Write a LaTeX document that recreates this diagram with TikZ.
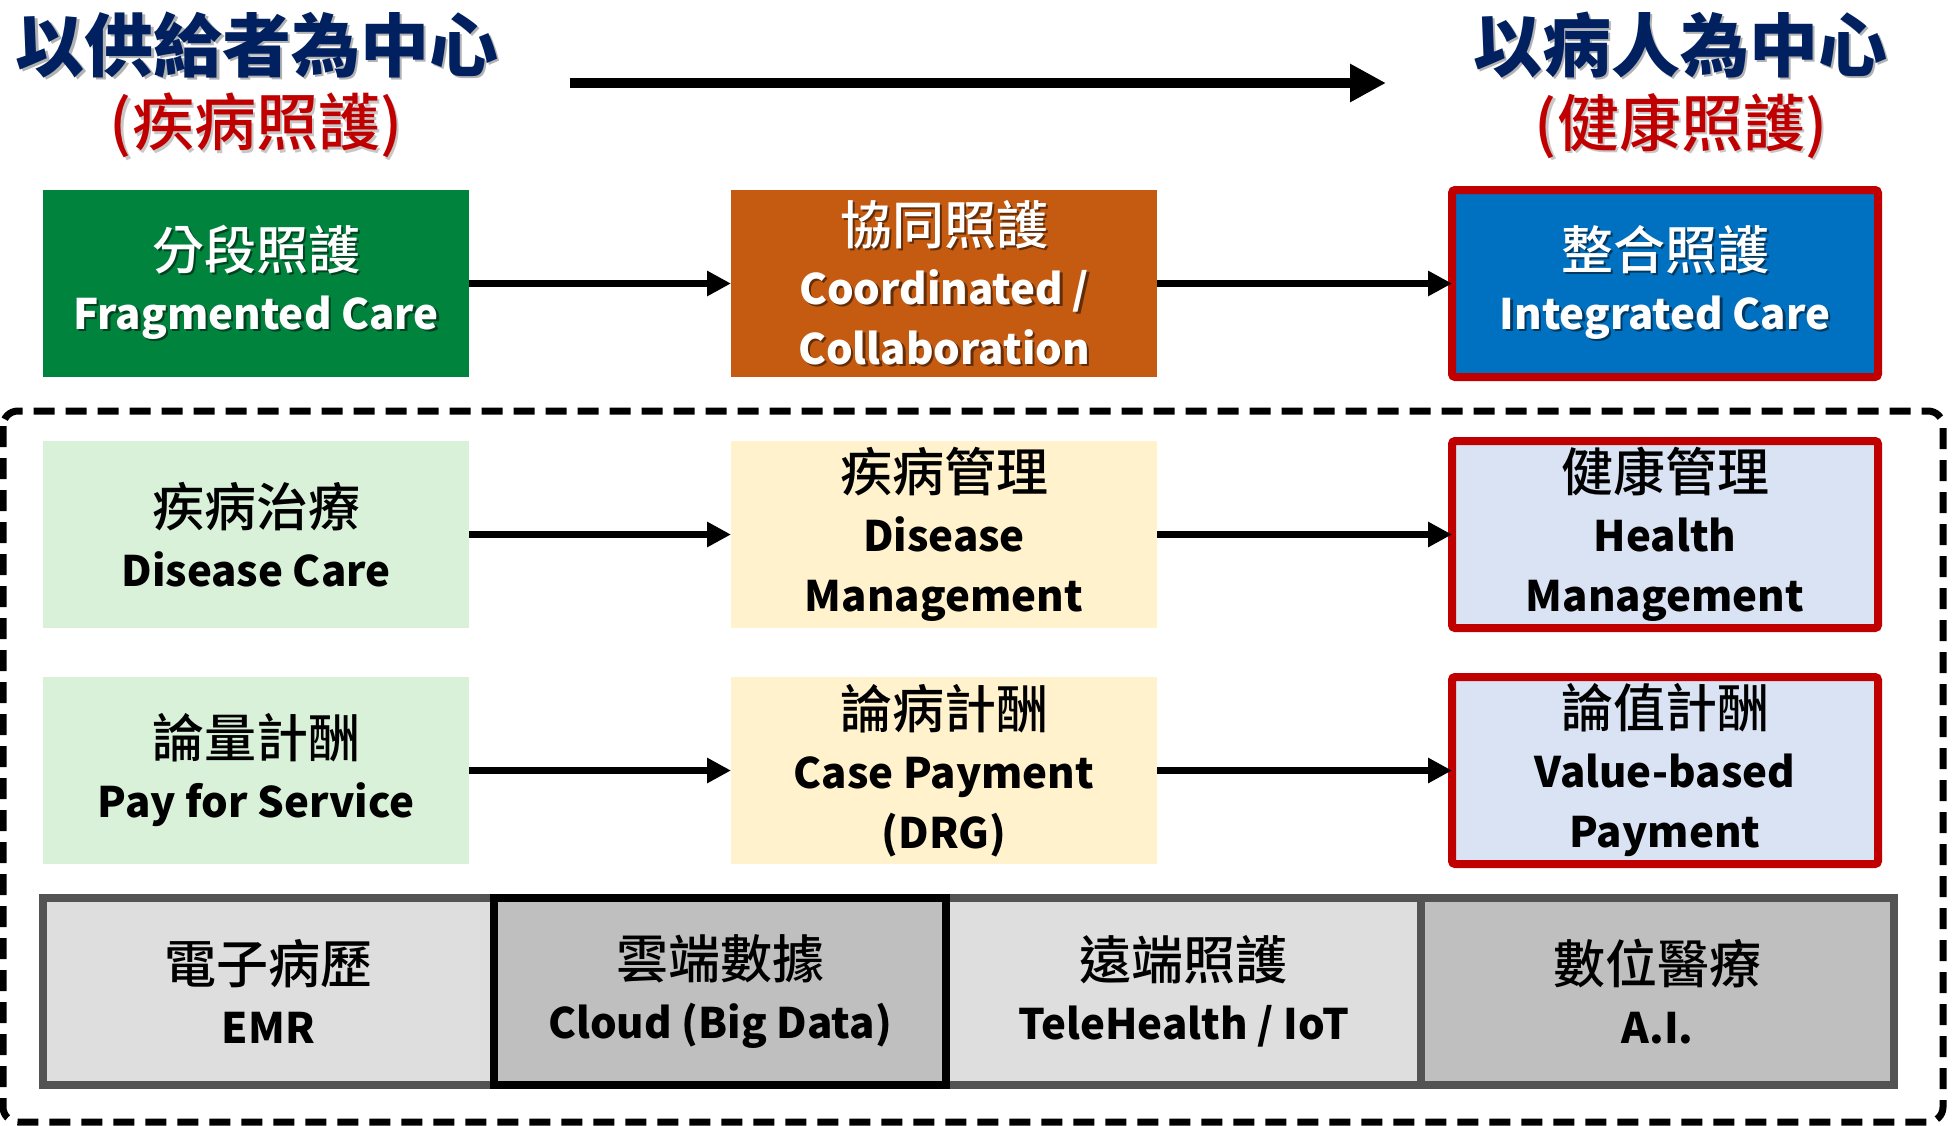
\documentclass[tikz,border=0pt]{standalone}
\usepackage{fontspec}
\setmainfont{Noto Sans CJK TC}
\IfFontExistsTF{Noto Sans CJK TC Medium}
  {\newfontfamily\cjkmedfam{Noto Sans CJK TC Medium}\newcommand{\cjkmed}{\cjkmedfam\mdseries}}
  {\newcommand{\cjkmed}{\mdseries}}
\IfFontExistsTF{Noto Sans CJK TC Black}
  {\newfontfamily\titlefam{Noto Sans CJK TC Black}\newcommand{\titlesel}{\titlefam\mdseries}}
  {\newcommand{\titlesel}{\bfseries}}
\usetikzlibrary{arrows.meta}
\definecolor{cnavy}{HTML}{002060}
\definecolor{cred}{HTML}{C00000}
\definecolor{cgreen}{HTML}{00843D}
\definecolor{corange}{HTML}{C55A11}
\definecolor{cblue}{HTML}{0070C0}
\definecolor{clgreen}{HTML}{D9F1D9}
\definecolor{clyellow}{HTML}{FFF2CC}
\definecolor{clblue}{HTML}{DAE3F3}
\definecolor{cglight}{HTML}{DEDEDE}
\definecolor{cgdark}{HTML}{BFBFBF}
\definecolor{cgborder}{HTML}{535353}
\newcommand{\shd}[2]{\leavevmode\rlap{\hspace{2.5pt}\raisebox{-2.5pt}{\textcolor{#1}{#2}}}#2}
\newcommand{\cjkfs}{\fontsize{52}{60}\selectfont\cjkmed}
\newcommand{\enfs}{\fontsize{42}{60}\selectfont\bfseries}
\begin{document}
\begin{tikzpicture}[x=1pt,y=-1pt,
  box/.style={minimum width=426pt,minimum height=187pt,inner sep=0pt,outer sep=0pt,align=center,font=\enfs},
  redbox/.style={box,draw=cred,line width=8pt,rounded corners=3pt},
  cell/.style={minimum height=187pt,inner sep=0pt,outer sep=0pt,align=center,draw=cgborder,line width=8pt,font=\enfs},
  conn/.style={line width=7pt,-{Triangle[length=24pt,width=24pt]}},
  title/.style={font=\fontsize{69}{80}\selectfont\titlesel,text=cnavy,inner sep=0pt},
  subtitle/.style={font=\fontsize{62}{72}\selectfont\cjkmed,text=cred,inner sep=0pt}]
\useasboundingbox (0,0) rectangle (1952,1125);
% titles
\node[title] (t1) at (257,46) {\shd{black!30}{以供給者為中心}};
\node[subtitle] (s1) at (256,127) {\shd{black!22}{(疾病照護)}};
\node[title] (t2) at (1680,46) {\shd{black!30}{以病人為中心}};
\node[subtitle] (s2) at (1681,127) {\shd{black!22}{(健康照護)}};
\coordinate (ta) at (570,83);
\coordinate (tb) at (1386,83);
\draw[line width=10pt,-{Triangle[length=36pt,width=36pt]}] (ta) -- (tb);
% row 1
\node[box,fill=cgreen,text=white] (a1) at (256,283.5)
  {{\cjkfs\shd{cgreen!50!black}{分段照護}}\\\shd{cgreen!50!black}{Fragmented Care}};
\node[box,fill=corange,text=white] (a2) at (944,283.5)
  {{\cjkfs\shd{corange!50!black}{協同照護}}\\\shd{corange!50!black}{Coordinated /}\\\shd{corange!50!black}{Collaboration}};
\node[redbox,fill=cblue,text=white] (a3) at (1665,283.5)
  {{\cjkfs\shd{cblue!50!black}{整合照護}}\\\shd{cblue!50!black}{Integrated Care}};
\draw[conn] (a1.east) -- (a2.west);
\draw[conn] (a2.east) -- (a3.west);
% dashed frame
\draw[line width=7pt,dash pattern=on 21pt off 11pt,rounded corners=15pt] (3,411) rectangle (1943,1122);
% row 2
\node[box,fill=clgreen] (b1) at (256,534.5) {{\cjkfs 疾病治療}\\Disease Care};
\node[box,fill=clyellow] (b2) at (944,534.5) {{\cjkfs 疾病管理}\\Disease\\Management};
\node[redbox,fill=clblue] (b3) at (1665,534.5) {{\cjkfs 健康管理}\\Health\\Management};
\draw[conn] (b1.east) -- (b2.west);
\draw[conn] (b2.east) -- (b3.west);
% row 3
\node[box,fill=clgreen] (c1) at (256,770.5) {{\cjkfs 論量計酬}\\Pay for Service};
\node[box,fill=clyellow] (c2) at (944,770.5) {{\cjkfs 論病計酬}\\Case Payment\\(DRG)};
\node[redbox,fill=clblue] (c3) at (1665,770.5) {{\cjkfs 論值計酬}\\Value-based\\Payment};
\draw[conn] (c1.east) -- (c2.west);
\draw[conn] (c2.east) -- (c3.west);
% bottom bar
\node[cell,fill=cglight,minimum width=451pt] (d1) at (268.5,991.5) {{\cjkfs 電子病歷}\\EMR};
\node[cell,fill=cglight,minimum width=475pt] (d3) at (1183.5,991.5) {{\cjkfs 遠端照護}\\TeleHealth / IoT};
\node[cell,fill=cgdark,minimum width=473pt] (d4) at (1657.5,991.5) {{\cjkfs 數位醫療}\\A.I.};
\node[cell,fill=cgdark,draw=black,minimum width=452pt] (d2) at (720,991.5) {{\cjkfs 雲端數據}\\Cloud (Big Data)};
\end{tikzpicture}
\end{document}
